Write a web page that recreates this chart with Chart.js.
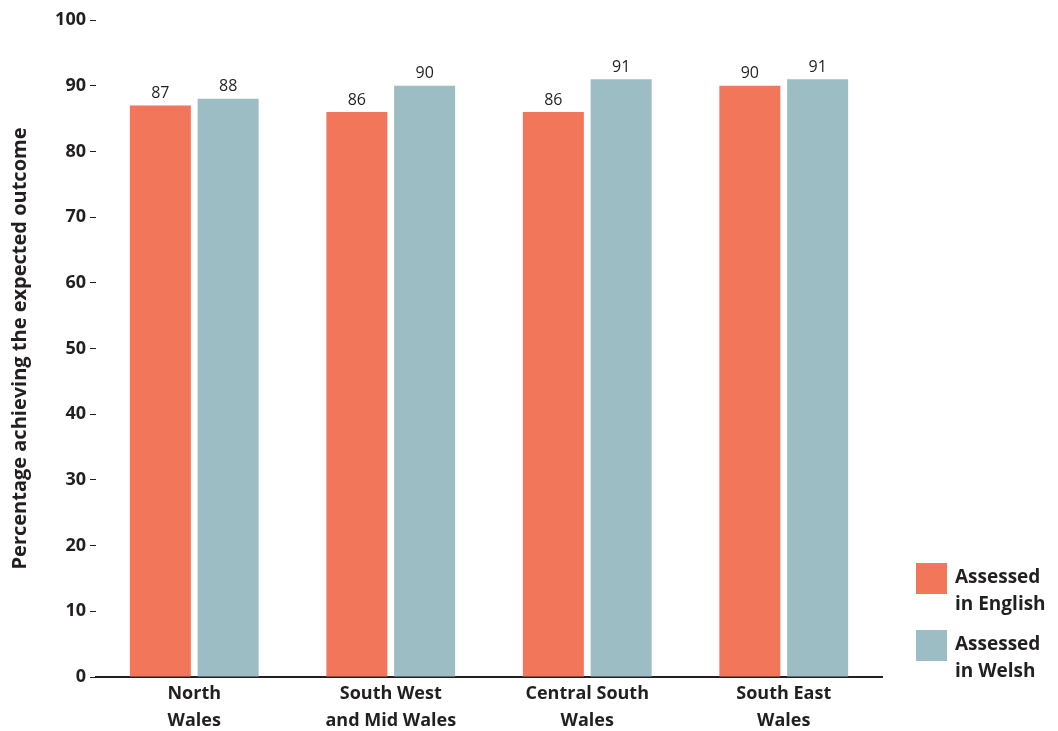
<!DOCTYPE html>
<html>
<head>
<meta charset="utf-8">
<script src="https://cdn.jsdelivr.net/npm/chart.js@4.4.0/dist/chart.umd.min.js"></script>
<style>
  html, body { margin: 0; padding: 0; background: #fff; }
  #wrap { position: relative; width: 1058px; height: 731px; }
  #legend { position: absolute; left: 916px; top: 563px; font-family: "Open Sans", sans-serif; font-weight: bold; font-size: 19px; color: #231f20; line-height: 27px; }
  .item { display: flex; align-items: flex-start; margin-bottom: 13px; }
  .box { width: 31px; height: 31px; margin-right: 8px; margin-top: 0px; }
</style>
</head>
<body>
<div id="wrap">
  <canvas id="chart" width="1058" height="731"></canvas>
  <div id="legend"></div>
</div>
<script>
// data
var regions = [["North", "Wales"], ["South West", "and Mid Wales"], ["Central South", "Wales"], ["South East", "Wales"]];
var english = [87, 86, 86, 90];
var welsh = [88, 90, 91, 91];
var seriesNames = [["Assessed", "in English"], ["Assessed", "in Welsh"]];
var colours = ["#f2775a", "#9bbdc3"];
var yTicks = [0, 10, 20, 30, 40, 50, 60, 70, 80, 90, 100];

var ink = "#231f20";
var face = "'Open Sans', sans-serif";

// value labels above each bar
var valueLabels = {
    id: "valueLabels",
    afterDatasetsDraw: function (chart) {
        var ctx = chart.ctx;
        ctx.save();
        ctx.font = "16px " + face;
        ctx.fillStyle = ink;
        ctx.textAlign = "center";
        ctx.textBaseline = "bottom";
        chart.data.datasets.forEach(function (ds, i) {
            chart.getDatasetMeta(i).data.forEach(function (bar, j) {
                ctx.fillText(ds.data[j], bar.x, bar.y - 4);
            });
        });
        ctx.restore();
    }
};

var ctx = document.getElementById("chart").getContext("2d");
var myChart = new Chart(ctx, {
    type: "bar",
    data: {
        labels: regions,
        datasets: [{
                label: seriesNames[0].join(" "),
                data: english,
                backgroundColor: colours[0]
            },
            {
                label: seriesNames[1].join(" "),
                data: welsh,
                backgroundColor: colours[1]
            }
        ]
    },
    options: {
        responsive: false,
        animation: false,
        layout: { padding: { top: 20, right: 176, bottom: 0, left: 8 } },
        datasets: { bar: { categoryPercentage: 0.69, barPercentage: 0.9 } },
        plugins: { legend: { display: false }, tooltip: { enabled: false } },
        scales: {
            x: {
                grid: { display: false, drawTicks: false, tickLength: 0 },
                border: { display: true, color: ink, width: 2 },
                afterFit: function (axis) { axis.height = 54; },
                ticks: {
                    color: ink,
                    padding: 3,
                    font: { family: face, weight: "bold", size: 18, lineHeight: 1.5 }
                }
            },
            y: {
                min: 0,
                max: 100,
                afterBuildTicks: function (axis) {
                    axis.ticks = yTicks.map(function (v) { return { value: v }; });
                },
                afterFit: function (axis) { axis.width = 88; },
                grid: { drawOnChartArea: false, tickLength: 6, color: ink, lineWidth: 1 },
                border: { display: false },
                ticks: {
                    color: ink,
                    padding: 4,
                    font: { family: face, weight: "bold", size: 18 }
                },
                title: {
                    display: true,
                    text: "Percentage achieving the expected outcome",
                    color: ink,
                    padding: { top: 0, bottom: 0 },
                    font: { family: face, weight: "bold", size: 20 }
                }
            }
        }
    },
    plugins: [valueLabels]
});

// legend on the right
var legend = document.getElementById("legend");
seriesNames.forEach(function (name, i) {
    var item = document.createElement("div");
    item.className = "item";
    item.innerHTML = '<div class="box" style="background:' + colours[i] + '"></div><div>' + name.join("<br>") + "</div>";
    legend.appendChild(item);
});
</script>
</body>
</html>
